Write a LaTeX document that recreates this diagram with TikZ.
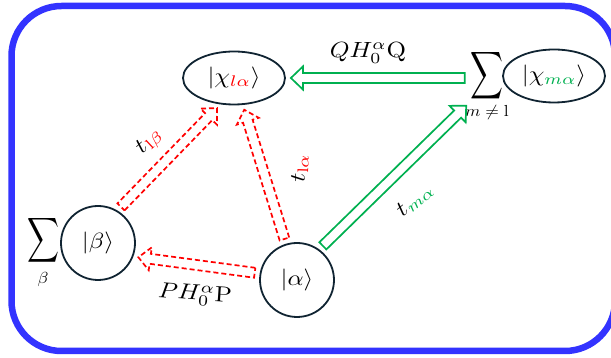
\documentclass[tikz,border=0pt]{standalone}
\usepackage{graphicx}
\usetikzlibrary{calc,shapes.geometric}

\definecolor{frameblue}{RGB}{51,51,255}
\definecolor{arrgreen}{RGB}{0,176,80}
\definecolor{arrred}{RGB}{255,0,0}
\definecolor{nodeline}{RGB}{16,36,50}

\newcommand{\agap}{5}
\newcommand{\mtxt}[1]{\scalebox{2.5}[2.2]{$#1$}}
\newcommand{\msub}[1]{\scalebox{1.75}[1.6]{$#1$}}

\tikzset{
  blockarrow/.style={to path={
    let \p1=(\tikztostart), \p2=(\tikztotarget),
        \n1={atan2(\y2-\y1,\x2-\x1)}, \n2={veclen(\x2-\x1,\y2-\y1)}
    in ([shift={(\p1)},rotate=\n1]\agap,-5)
    -- ([shift={(\p1)},rotate=\n1]{\n2-\agap-12},-5)
    -- ([shift={(\p1)},rotate=\n1]{\n2-\agap-12},-11.5)
    -- ([shift={(\p1)},rotate=\n1]{\n2-\agap},0)
    -- ([shift={(\p1)},rotate=\n1]{\n2-\agap-12},11.5)
    -- ([shift={(\p1)},rotate=\n1]{\n2-\agap-12},5)
    -- ([shift={(\p1)},rotate=\n1]\agap,5) -- cycle}},
  state/.style={draw=nodeline, line width=1.8pt, inner sep=0pt},
  ket/.style={state, ellipse, minimum width=102pt, minimum height=53pt},
  ketc/.style={state, circle, minimum size=74pt},
  sumsym/.style={inner sep=0pt},
  sumsub/.style={inner sep=0pt},
  lbl/.style={inner sep=1pt},
  redarrow/.style={draw=arrred, line width=1.7pt, dash pattern=on 5pt off 3pt, blockarrow},
  greenarrow/.style={draw=arrgreen, line width=1.7pt, blockarrow}
}

\begin{document}
\begin{tikzpicture}[x=1pt, y=1pt]
  \useasboundingbox (0,0) rectangle (611,358);
  \draw[frameblue, line width=6.5pt, rounded corners=50pt] (11.5,7) rectangle (615,352);

  % states
  \node[ket] (chil) at (234,280) {\mtxt{|\chi_{\textcolor{arrred}{l\alpha}}\rangle}};
  \node[ket] (chim) at (554,282) {\mtxt{|\chi_{\textcolor{arrgreen}{m\alpha}}\rangle}};
  \node[ketc] (beta) at (98,115) {\mtxt{|\beta\rangle}};
  \node[ketc] (alpha) at (297,78) {\mtxt{|\alpha\rangle}};

  % sums
  \node[sumsym] (summ) at (486.5,282.5) {\resizebox*{33pt}{53pt}{$\displaystyle\sum$}};
  \node[sumsub] (summsub) at (487,245) {\msub{m\neq\mathrm{l}}};
  \node[sumsym] (sumb) at (44,118) {\resizebox*{32pt}{50pt}{$\displaystyle\sum$}};
  \node[sumsub] (sumbsub) at (43,78) {\msub{\beta}};

  % couplings
  \draw[greenarrow] (summ.west |- chil.east) to (chil.east);
  \draw[greenarrow] (alpha.54) to (summ.south west);
  \draw[redarrow] (beta.59) to (chil.243);
  \draw[redarrow] (alpha.107) to (chil.288);
  \draw[redarrow] (alpha.170) to (beta.-21);

  % labels
  \node[lbl] (lblqq) at (368,305) {\mtxt{QH_0^{\alpha}\mathrm{Q}}};
  \node[lbl, rotate=43] (lbltlb) at (150,216) {\mtxt{t_{\textcolor{arrred}{\mathrm{l}\beta}}}};
  \node[lbl, rotate=88] (lbltla) at (300,190) {\mtxt{t_{\textcolor{arrred}{\mathrm{l}\alpha}}}};
  \node[lbl, rotate=40] (lbltma) at (415,158) {\mtxt{t_{\textcolor{arrgreen}{m\alpha}}}};
  \node[lbl, rotate=-4] (lblpp) at (195,63) {\mtxt{PH_0^{\alpha}\mathrm{P}}};
\end{tikzpicture}
\end{document}
